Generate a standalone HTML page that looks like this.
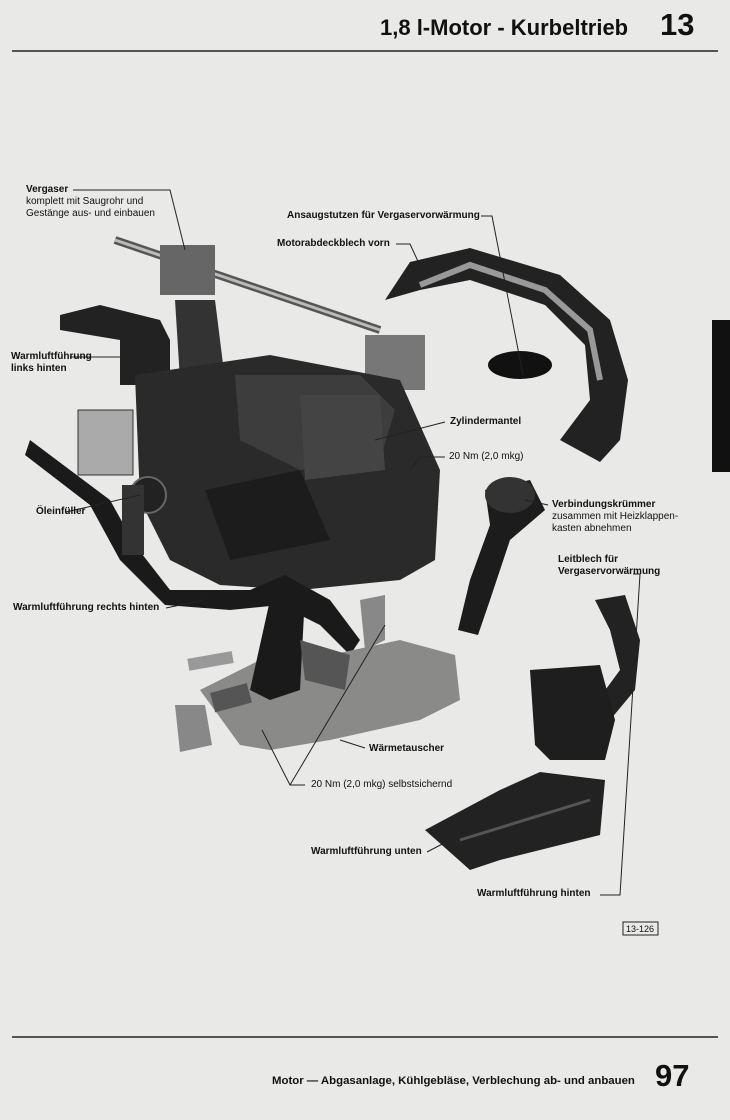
<!DOCTYPE html>
<html><head><meta charset="utf-8"><style>
body{margin:0;width:730px;height:1120px;background:#e9e9e7;position:relative;overflow:hidden;font-family:"Liberation Sans",sans-serif;color:#111}
.t{position:absolute;font-size:10px;line-height:12px;white-space:nowrap}
.b{font-weight:bold}
svg{position:absolute;left:0;top:0}
</style></head><body>
<svg width="730" height="1120" viewBox="0 0 730 1120">
<line x1="12" y1="51" x2="718" y2="51" stroke="#222" stroke-width="1.5"/>
<line x1="12" y1="1037" x2="718" y2="1037" stroke="#222" stroke-width="1.5"/>
<rect x="712" y="320" width="18" height="152" fill="#111"/>
<path d="M385,300 L410,262 L470,248 L560,275 L610,320 L628,380 L620,440 L600,462 L560,440 L590,400 L585,345 L545,305 L470,280 L420,290 Z" fill="#222"/>
<path d="M420,285 L470,265 L545,290 L590,330 L600,380" stroke="#999" stroke-width="6" fill="none"/>
<ellipse cx="520" cy="365" rx="32" ry="14" fill="#111"/>
<path d="M115,240 L380,330" stroke="#555" stroke-width="8"/>
<path d="M115,240 L380,330" stroke="#bbb" stroke-width="3"/>
<rect x="160" y="245" width="55" height="50" fill="#666"/>
<rect x="365" y="335" width="60" height="55" fill="#777"/>
<path d="M60,315 L100,305 L160,320 L170,340 L170,385 L120,385 L120,340 L60,330 Z" fill="#222"/>
<path d="M175,300 L215,300 L225,380 L180,380 Z" fill="#333"/>
<rect x="78" y="410" width="55" height="65" fill="#aaa" stroke="#333"/>
<path d="M135,375 L270,355 L400,380 L440,470 L435,560 L400,580 L300,590 L220,585 L170,560 L140,500 Z" fill="#2a2a2a"/>
<path d="M235,375 L360,375 L395,410 L380,460 L300,470 L240,440 Z" fill="#3d3d3d"/>
<path d="M205,490 L300,470 L330,540 L230,560 Z" fill="#1c1c1c"/>
<path d="M300,395 L380,395 L385,470 L305,480 Z" fill="#444"/>
<path d="M30,440 L110,500 L135,545 L170,590 L250,590 L285,575 L330,600 L360,640 L350,655 L320,625 L280,605 L230,610 L165,605 L120,560 L90,505 L25,455 Z" fill="#1a1a1a"/>
<circle cx="148" cy="495" r="18" fill="#222" stroke="#666" stroke-width="2"/>
<rect x="122" y="485" width="22" height="70" fill="#333"/>
<path d="M200,690 L260,660 L330,655 L400,640 L455,655 L460,700 L420,720 L330,740 L270,750 L240,745 Z" fill="#8a8a88"/>
<path d="M270,600 L305,595 L300,690 L270,700 L250,690 Z" fill="#1a1a1a"/>
<path d="M360,600 L385,595 L385,640 L365,650 Z" fill="#888"/>
<path d="M300,640 L350,655 L345,690 L305,680 Z" fill="#555"/>
<rect x="212" y="688" width="38" height="20" fill="#555" transform="rotate(-15 230 698)"/>
<path d="M175,705 L205,705 L212,745 L180,752 Z" fill="#888"/>
<rect x="188" y="655" width="45" height="12" fill="#999" transform="rotate(-10 210 661)"/>
<path d="M485,490 L530,480 L545,510 L510,540 L490,600 L478,635 L458,630 L470,580 L490,525 Z" fill="#1c1c1c"/>
<ellipse cx="510" cy="495" rx="25" ry="18" fill="#333"/>
<path d="M595,600 L625,595 L640,640 L635,690 L610,720 L598,700 L620,670 L610,630 Z" fill="#222"/>
<path d="M530,670 L600,665 L615,720 L605,760 L550,760 L535,745 Z" fill="#1e1e1e"/>
<path d="M425,830 L500,790 L540,772 L605,780 L600,835 L560,845 L500,860 L470,870 Z" fill="#222"/>
<path d="M460,840 L590,800" stroke="#555" stroke-width="3"/>
<g stroke="#222" stroke-width="1" fill="none">
<path d="M73,190 L170,190 L185,250"/>
<path d="M481,216 L492,216 L523,375"/>
<path d="M396,244 L410,244 L422,270"/>
<path d="M70,357 L125,357"/>
<path d="M66,512 L140,495"/>
<path d="M166,608 L205,600"/>
<path d="M445,422 L375,440"/>
<path d="M445,457 L420,457 L410,470"/>
<path d="M548,505 L525,500"/>
<path d="M633,574 L640,574 L620,895 L600,895"/>
<path d="M427,852 L450,840"/>
<path d="M365,748 L340,740"/>
<path d="M305,785 L290,785 L262,730"/>
<path d="M290,785 L385,625"/>
</g>
<rect x="623" y="922" width="35" height="13" fill="none" stroke="#222"/>
</svg>
<div class="t b" style="left:380px;top:15px;font-size:22px;line-height:26px">1,8 l-Motor - Kurbeltrieb</div>
<div class="t b" style="left:660px;top:7px;font-size:31px;line-height:36px">13</div>
<div class="t" style="left:26px;top:184px"><b>Vergaser</b><br>komplett mit Saugrohr und<br>Gestänge aus- und einbauen</div>
<div class="t b" style="left:287px;top:210px">Ansaugstutzen für Vergaservorwärmung</div>
<div class="t b" style="left:277px;top:238px">Motorabdeckblech vorn</div>
<div class="t b" style="left:11px;top:351px">Warmluftführung<br>links hinten</div>
<div class="t b" style="left:450px;top:416px">Zylindermantel</div>
<div class="t" style="left:449px;top:451px">20 Nm (2,0 mkg)</div>
<div class="t b" style="left:36px;top:506px">Öleinfüller</div>
<div class="t" style="left:552px;top:499px"><b>Verbindungskrümmer</b><br>zusammen mit Heizklappen-<br>kasten abnehmen</div>
<div class="t b" style="left:558px;top:554px">Leitblech für<br>Vergaservorwärmung</div>
<div class="t b" style="left:13px;top:602px">Warmluftführung rechts hinten</div>
<div class="t b" style="left:369px;top:743px">Wärmetauscher</div>
<div class="t" style="left:311px;top:779px">20 Nm (2,0 mkg) selbstsichernd</div>
<div class="t b" style="left:311px;top:846px">Warmluftführung unten</div>
<div class="t b" style="left:477px;top:888px">Warmluftführung hinten</div>
<div class="t" style="left:626px;top:923px;font-size:9px">13-126</div>
<div class="t b" style="left:272px;top:1075px;font-size:11.4px">Motor — Abgasanlage, Kühlgebläse, Verblechung ab- und anbauen</div>
<div class="t b" style="left:655px;top:1058px;font-size:31px;line-height:36px">97</div>
</body></html>
